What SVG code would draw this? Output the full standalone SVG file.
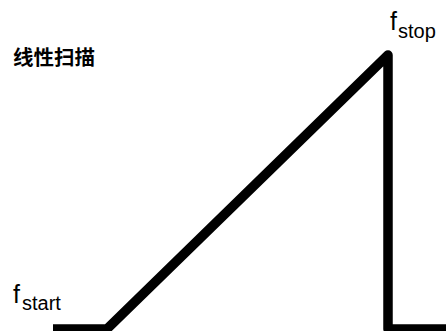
<svg xmlns="http://www.w3.org/2000/svg" width="446" height="331" viewBox="0 0 446 331">
<style>
.lbl{font-family:"Liberation Sans",Arial,sans-serif;fill:#000}
.f{font-size:25px}
.sub{font-size:20px}
.title{font-family:"Noto Sans CJK SC",sans-serif;font-weight:bold;font-size:20.5px;fill:#000}
.sweep{fill:none;stroke:#000;stroke-width:9.5;stroke-linejoin:round;stroke-linecap:butt}
</style>
<rect width="446" height="331" fill="#fff"/>
<g id="title"><text class="title" x="13" y="65">线性扫描</text></g>
<g id="connectors">
<path class="sweep" d="M53 329 L107 329 L388 55 L388 329 L446 329"/>
</g>
<g id="fstop"><text class="lbl" x="390" y="30"><tspan class="f">f</tspan><tspan class="sub" x="398" y="38">stop</tspan></text></g>
<g id="fstart"><text class="lbl" x="13" y="303"><tspan class="f">f</tspan><tspan class="sub" x="22" y="310">start</tspan></text></g>
</svg>
